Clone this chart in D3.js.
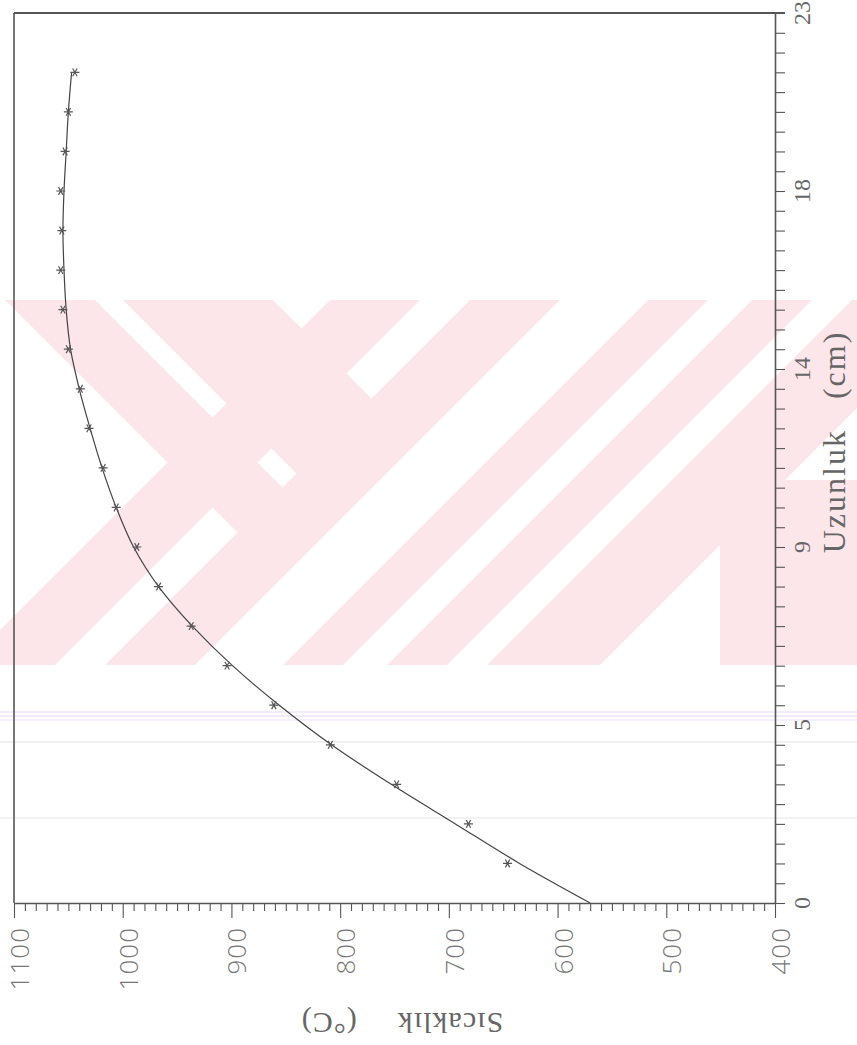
<!DOCTYPE html>
<html>
<head>
<meta charset="utf-8">
<script src="https://cdn.jsdelivr.net/npm/d3@7"></script>
<style>
  body { margin: 0; background: #fff; }
  svg { display: block; }
</style>
</head>
<body>
<svg id="chart"></svg>
<script>
// length along the sample (cm)
var lengths = [0, 1, 2, 3, 4, 5, 6, 7, 8, 9, 10, 11, 12, 13, 14, 15, 16, 17, 18, 19, 20, 21];
// measured temperatures (degC), the asterisks, from 1 cm on
var measured = [null, 646, 682, 748, 809, 861, 904, 937, 967, 987, 1006, 1018, 1031, 1039, 1050, 1055, 1057, 1056, 1057, 1053, 1050, 1044];
// fitted curve (degC)
var fitted = [570, 635, 694, 753, 808, 856, 899, 936, 967, 990, 1006, 1019, 1030, 1040, 1048, 1052, 1054, 1055, 1054, 1052, 1050, 1047];

var tempTicks = [1100, 1000, 900, 800, 700, 600, 500, 400];
var lenTickPos = [0, 4.5, 9, 13.5, 18, 22.5];
var lenTickLabels = ["0", "5", "9", "14", "18", "23"];

var W = 857, H = 1045;
var margin = {top: 13, right: 82, bottom: 142, left: 14};

var svg = d3.select("#chart").attr("width", W).attr("height", H);

// scanned page watermark (decoration only)
var wm = svg.append("g");
svg.append("clipPath").attr("id", "wmclip")
    .append("rect").attr("x", 0).attr("y", 300).attr("width", W).attr("height", 365);
var wmg = wm.append("g").attr("clip-path", "url(#wmclip)").attr("fill", "#fde6ea");
var bands = [
    [[0, 300], [95, 300], [300, 505], [255, 550], [0, 295]],
    [[123, 300], [273, 300], [395, 422], [320, 497]],
    [[330, 300], [420, 300], [55, 665], [-35, 665]],
    [[470, 300], [560, 300], [195, 665], [105, 665]],
    [[648, 300], [708, 300], [343, 665], [283, 665]],
    [[752, 300], [812, 300], [447, 665], [387, 665]],
    [[852, 300], [965, 300], [600, 665], [487, 665]],
    [[720, 480], [857, 480], [857, 665], [720, 665]]
];
wmg.selectAll("path").data(bands).enter().append("path")
    .attr("d", function (d) { return "M" + d.join("L") + "Z"; });

// faint scanner lines
var scanLines = [{y: 712, c: "#eadcf3"}, {y: 716, c: "#e6d3f0"}, {y: 720, c: "#efe2f5"}, {y: 742, c: "#e4e4e4"}, {y: 818, c: "#e6e6e6"}];
svg.append("g").selectAll("line").data(scanLines).enter().append("line")
    .attr("x1", 0).attr("x2", W)
    .attr("y1", function (d) { return d.y; }).attr("y2", function (d) { return d.y; })
    .attr("stroke", function (d) { return d.c; }).attr("stroke-width", 1.2);

var x = d3.scaleLinear().domain([1100, 400]).range([margin.left, W - margin.right]);
var y = d3.scaleLinear().domain([0, 22.5]).range([H - margin.bottom, margin.top]);

var ink = "#555";

// frame: top and left
svg.append("line").attr("x1", x(1100)).attr("x2", x(400) + 10)
    .attr("y1", y(22.5)).attr("y2", y(22.5))
    .attr("stroke", ink).attr("stroke-width", 2);
svg.append("line").attr("x1", x(1100)).attr("x2", x(1100))
    .attr("y1", y(22.5)).attr("y2", y(0))
    .attr("stroke", ink).attr("stroke-width", 1.6);

// bottom axis (temperature)
var minorT = d3.range(400, 1101, 10);
var gB = svg.append("g").attr("transform", "translate(0," + y(0) + ")");
gB.call(d3.axisBottom(x).tickValues(minorT).tickSize(8).tickSizeOuter(0).tickFormat(""));
gB.call(function (g) {
    g.selectAll(".tick").filter(function (d) { return d % 100 === 0; })
        .select("line").attr("y2", 15);
});
gB.select(".domain").attr("stroke", ink).attr("stroke-width", 1.6);
gB.selectAll(".tick line").attr("stroke", ink).attr("stroke-width", 1.1);

svg.append("g").selectAll("text").data(tempTicks).enter().append("text")
    .attr("transform", function (d) { return "translate(" + (x(d) + 15) + "," + (y(0) + 24) + ") rotate(-90)"; })
    .attr("text-anchor", "end")
    .style("font-family", "'Open Sans', sans-serif")
    .style("font-weight", 300)
    .style("font-size", "26px")
    .style("letter-spacing", "1px")
    .style("fill", "#777")
    .text(function (d) { return d; });

// right axis (length)
var minorL = d3.range(0, 22.51, 0.5);
var gR = svg.append("g").attr("transform", "translate(" + x(400) + ",0)");
gR.call(d3.axisRight(y).tickValues(minorL).tickSize(10).tickSizeOuter(0).tickFormat(""));
gR.select(".domain").attr("stroke", ink).attr("stroke-width", 1.6);
gR.selectAll(".tick line").attr("stroke", ink).attr("stroke-width", 1.1);

svg.append("g").selectAll("text").data(lenTickPos).enter().append("text")
    .attr("transform", function (d) { return "translate(" + (x(400) + 35) + "," + y(d) + ") rotate(-90)"; })
    .attr("text-anchor", "middle")
    .style("font-family", "'Liberation Serif', serif")
    .style("font-size", "24px")
    .style("fill", "#666")
    .text(function (d, i) { return lenTickLabels[i]; });

// axis titles
var tR = svg.append("text")
    .attr("transform", "translate(" + (x(400) + 70) + ",442) rotate(-90)")
    .attr("text-anchor", "middle")
    .style("font-family", "'Liberation Serif', serif")
    .style("font-size", "32px")
    .style("letter-spacing", "2px")
    .style("fill", "#666");
tR.append("tspan").text("Uzunluk");
tR.append("tspan").attr("dx", 30).text("(cm)");

var tB = svg.append("text")
    .attr("transform", "translate(402,1013) rotate(180)")
    .attr("text-anchor", "middle")
    .style("font-family", "'Liberation Serif', serif")
    .style("font-size", "30px")
    .style("letter-spacing", "1px")
    .style("fill", "#666");
tB.append("tspan").text("Sıcaklık");
tB.append("tspan").attr("dx", 40).text("(°C)");

// fitted curve
var line = d3.line()
    .x(function (d, i) { return x(fitted[i]); })
    .y(function (d) { return y(d); })
    .curve(d3.curveMonotoneY);
svg.append("path").datum(lengths)
    .attr("d", line)
    .attr("fill", "none")
    .attr("stroke", "#444")
    .attr("stroke-width", 1.2);

// measured points as asterisks
var star = "M-4.5,0L4.5,0M-2.25,-3.9L2.25,3.9M-2.25,3.9L2.25,-3.9";
svg.append("g").selectAll("path")
    .data(lengths.filter(function (d, i) { return measured[i] != null; }))
    .enter().append("path")
    .attr("transform", function (d) { return "translate(" + x(measured[d]) + "," + y(d) + ")"; })
    .attr("d", star)
    .attr("stroke", "#555")
    .attr("stroke-width", 1.2)
    .attr("fill", "none");
</script>
</body>
</html>
